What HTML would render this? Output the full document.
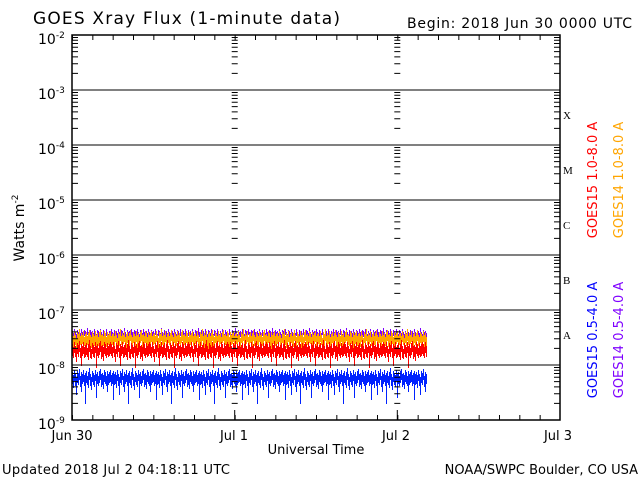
<!DOCTYPE html>
<html><head><style>
html,body{margin:0;padding:0;background:#fff;}
svg{display:block;font-family:"DejaVu Sans","Liberation Sans",sans-serif;}
</style></head><body>
<svg width="640" height="480" xmlns="http://www.w3.org/2000/svg">
<defs>
<pattern id="pu" patternUnits="userSpaceOnUse" x="72" y="0" width="37" height="480">
<path stroke="#7f00ff" stroke-width="1" d="M0.5 331V337M1.5 333V338M2.5 329V336M3.5 332V337M4.5 334V339M5.5 330V336M6.5 332V338M7.5 331V337M8.5 333V339M9.5 329V335M10.5 332V338M11.5 334V339M12.5 330V336M13.5 331V337M14.5 333V338M15.5 328V335M16.5 332V337M17.5 334V339M18.5 330V336M19.5 332V338M20.5 331V337M21.5 333V339M22.5 329V336M23.5 332V337M24.5 334V338M25.5 330V336M26.5 331V338M27.5 333V337M28.5 329V335M29.5 332V338M30.5 334V339M31.5 330V336M32.5 331V337M33.5 333V338M34.5 329V336M35.5 332V337M36.5 334V339"/>
</pattern>
<pattern id="or" patternUnits="userSpaceOnUse" x="72" y="0" width="41" height="480">
<path stroke="#ffa500" stroke-width="1" d="M0.5 333V344M1.5 336V347M2.5 331V342M3.5 335V345M4.5 338V349M5.5 332V343M6.5 334V346M7.5 329V341M8.5 336V345M9.5 333V348M10.5 335V344M11.5 331V342M12.5 337V346M13.5 334V350M14.5 332V343M15.5 336V345M16.5 333V347M17.5 330V341M18.5 335V346M19.5 337V348M20.5 332V343M21.5 334V345M22.5 336V346M23.5 331V342M24.5 335V349M25.5 333V344M26.5 337V346M27.5 332V343M28.5 330V341M29.5 335V347M30.5 334V345M31.5 336V346M32.5 331V343M33.5 333V344M34.5 337V347M35.5 332V351M36.5 335V345M37.5 333V344M38.5 331V342M39.5 336V346M40.5 334V345"/>
</pattern>
<pattern id="rd" patternUnits="userSpaceOnUse" x="72" y="0" width="39" height="480">
<path stroke="#ff0000" stroke-width="1" d="M0.5 344V356M1.5 347V358M2.5 342V353M3.5 346V357M4.5 349V362M5.5 343V354M6.5 345V357M7.5 341V352M8.5 348V358M9.5 344V366M10.5 346V356M11.5 342V354M12.5 347V358M13.5 345V357M14.5 343V355M15.5 348V357M16.5 344V360M17.5 340V352M18.5 346V358M19.5 349V359M20.5 343V354M21.5 345V357M22.5 347V358M23.5 342V353M24.5 346V368M25.5 344V356M26.5 348V358M27.5 343V355M28.5 341V352M29.5 346V359M30.5 345V357M31.5 347V361M32.5 342V354M33.5 344V356M34.5 348V358M35.5 343V355M36.5 346V357M37.5 344V356M38.5 342V354"/>
</pattern>
<pattern id="bl" patternUnits="userSpaceOnUse" x="72" y="0" width="43" height="480">
<path stroke="#0022ff" stroke-width="1" d="M0.5 372V384M1.5 375V388M2.5 370V381M3.5 374V386M4.5 377V395M5.5 371V383M6.5 373V385M7.5 369V380M8.5 376V387M9.5 372V392M10.5 374V384M11.5 370V382M12.5 375V386M13.5 373V404M14.5 371V383M15.5 376V385M16.5 372V388M17.5 368V380M18.5 374V386M19.5 377V390M20.5 371V382M21.5 373V385M22.5 375V387M23.5 370V381M24.5 374V398M25.5 372V384M26.5 376V386M27.5 371V383M28.5 369V380M29.5 374V387M30.5 373V385M31.5 375V389M32.5 370V382M33.5 372V384M34.5 376V386M35.5 371V392M36.5 374V385M37.5 372V383M38.5 370V382M39.5 375V386M40.5 373V384M41.5 371V400M42.5 374V385"/>
</pattern>
<pattern id="lt" patternUnits="userSpaceOnUse" x="0" y="35" width="640" height="55">
<path stroke="#000" stroke-width="1" d="M72 38.4h6M72 28.8h6M72 21.9h6M72 16.6h6M72 12.2h6M72 8.5h6M72 5.3h6M72 2.5h6
M554 38.4h6M554 28.8h6M554 21.9h6M554 16.6h6M554 12.2h6M554 8.5h6M554 5.3h6M554 2.5h6
M231.7 38.4h6M231.7 28.8h6M231.7 21.9h6M231.7 16.6h6M231.7 12.2h6M231.7 8.5h6M231.7 5.3h6M231.7 2.5h6
M394.3 38.4h6M394.3 28.8h6M394.3 21.9h6M394.3 16.6h6M394.3 12.2h6M394.3 8.5h6M394.3 5.3h6M394.3 2.5h6"/>
</pattern>
<pattern id="ht" patternUnits="userSpaceOnUse" x="72" y="0" width="20.333" height="480">
<path stroke="#000" stroke-width="1" d="M0.5 35V40M0.5 415V420"/>
</pattern>
</defs>
<rect width="640" height="480" fill="#fff"/>
<text x="33" y="24" font-size="17" fill="#000" textLength="307">GOES Xray Flux (1-minute data)</text>
<text x="407" y="28" font-size="14" fill="#000" textLength="225">Begin:  2018 Jun 30 0000 UTC</text>

<rect x="72" y="326" width="355" height="16" fill="url(#pu)"/>
<rect x="72" y="326" width="355" height="28" fill="url(#or)"/>
<rect x="72" y="338" width="355" height="32" fill="url(#rd)"/>
<rect x="72" y="366" width="355" height="44" fill="url(#bl)"/>

<g stroke="#000" stroke-width="1">
<path d="M72 90H560M72 145H560M72 200H560M72 255H560M72 310H560M72 365H560"/>
<rect x="72" y="35" width="488" height="385" fill="none" stroke-width="1.5"/>
</g>
<rect x="0" y="35" width="640" height="385" fill="url(#lt)"/>
<rect x="72" y="35" width="488" height="385" fill="url(#ht)"/>
<path stroke="#000" d="M234.7 410V420M397.3 410V420"/>

<g font-size="14" fill="#000">
<text x="38" y="44">10<tspan font-size="9" dy="-6">-2</tspan></text>
<text x="38" y="99">10<tspan font-size="9" dy="-6">-3</tspan></text>
<text x="38" y="154">10<tspan font-size="9" dy="-6">-4</tspan></text>
<text x="38" y="209">10<tspan font-size="9" dy="-6">-5</tspan></text>
<text x="38" y="264">10<tspan font-size="9" dy="-6">-6</tspan></text>
<text x="38" y="319">10<tspan font-size="9" dy="-6">-7</tspan></text>
<text x="38" y="374">10<tspan font-size="9" dy="-6">-8</tspan></text>
<text x="38" y="429">10<tspan font-size="9" dy="-6">-9</tspan></text>
</g>
<g font-size="11" fill="#000" font-family="Liberation Serif,serif">
<text x="563" y="119">X</text><text x="563" y="174">M</text><text x="563" y="229">C</text><text x="563" y="284">B</text><text x="563" y="339">A</text>
</g>
<text transform="translate(24,228) rotate(-90)" text-anchor="middle" font-size="14">Watts m<tspan font-size="9" dy="-6">-2</tspan></text>
<g font-size="13" text-anchor="middle">
<text x="72" y="440">Jun 30</text><text x="234" y="440">Jul 1</text><text x="396" y="440">Jul 2</text><text x="558" y="440">Jul 3</text>
<text x="316" y="454">Universal Time</text>
</g>
<text x="2" y="474" font-size="13" textLength="228">Updated 2018 Jul  2 04:18:11 UTC</text>
<text x="638" y="474" font-size="13" text-anchor="end">NOAA/SWPC Boulder, CO USA</text>
<g font-size="13" text-anchor="middle">
<text transform="translate(597,180) rotate(-90)" fill="#ff0000">GOES15 1.0-8.0 A</text>
<text transform="translate(623,180) rotate(-90)" fill="#ffa500">GOES14 1.0-8.0 A</text>
<text transform="translate(597,340) rotate(-90)" fill="#0000ff">GOES15 0.5-4.0 A</text>
<text transform="translate(623,340) rotate(-90)" fill="#7f00ff">GOES14 0.5-4.0 A</text>
</g>
</svg>
</body></html>
